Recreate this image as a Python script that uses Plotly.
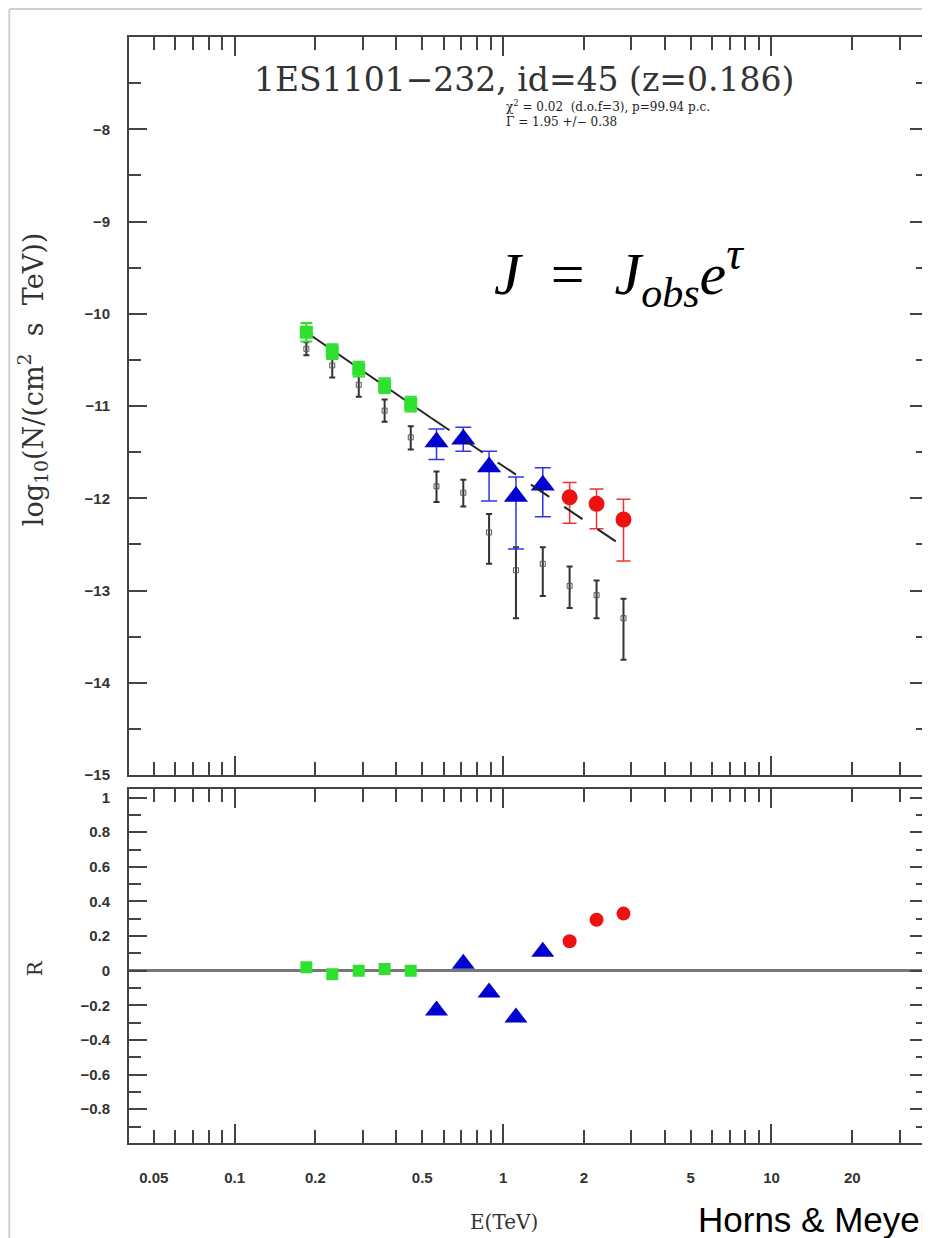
import numpy as np
import plotly.graph_objects as go

# ---------------- data ----------------
E_green = [0.185, 0.231, 0.290, 0.362, 0.453]
E_blue = [0.565, 0.711, 0.887, 1.117, 1.406]
E_red = [1.77, 2.23, 2.81]

logN_green = [-10.20, -10.41, -10.60, -10.78, -10.98]
err_green_up = [0.10, 0.08, 0.08, 0.08, 0.08]
err_green_dn = [0.10, 0.08, 0.08, 0.08, 0.08]

logN_blue = [-11.39, -11.36, -11.66, -11.98, -11.86]
err_blue_up = [0.14, 0.13, 0.17, 0.21, 0.19]
err_blue_dn = [0.19, 0.13, 0.37, 0.57, 0.34]

logN_red = [-11.99, -12.06, -12.23]
err_red_up = [0.16, 0.16, 0.22]
err_red_dn = [0.28, 0.27, 0.45]

E_obs = E_green + E_blue + E_red
logN_obs = [-10.38, -10.56, -10.77, -11.05, -11.34,
            -11.87, -11.94, -12.37, -12.78, -12.71,
            -12.95, -13.05, -13.30]
err_obs_up = [0.07, 0.13, 0.12, 0.12, 0.12, 0.16, 0.14, 0.20, 0.25, 0.18, 0.21, 0.16, 0.21]
err_obs_dn = [0.07, 0.13, 0.13, 0.12, 0.13, 0.17, 0.15, 0.34, 0.52, 0.35, 0.24, 0.25, 0.45]

fit_E_solid = [0.185, 0.54]
fit_logN_solid = [-10.20, -11.13]
fit_E_dash = [0.54, 2.80]
fit_logN_dash = [-11.13, -12.52]

R_green = [0.02, -0.02, 0.00, 0.01, 0.00]
R_blue = [-0.23, 0.04, -0.125, -0.27, 0.11]
R_red = [0.17, 0.295, 0.33]

x_tick_vals = [0.05, 0.1, 0.2, 0.5, 1, 2, 5, 10, 20]
x_tick_text = ["0.05", "0.1", "0.2", "0.5", "1", "2", "5", "10", "20"]
x_minor_vals = [0.04, 0.06, 0.07, 0.08, 0.09, 0.3, 0.4, 0.6, 0.7, 0.8, 0.9,
                3, 4, 6, 7, 8, 9, 30]
x_decades = [0.1, 1, 10]

y_tick_vals = [-8, -9, -10, -11, -12, -13, -14, -15]
y_tick_text = ["\u22128", "\u22129", "\u221210", "\u221211", "\u221212", "\u221213", "\u221214", "\u221215"]
y_minor_vals = [-7.5, -8.5, -9.5, -10.5, -11.5, -12.5, -13.5, -14.5]

r_tick_vals = [1, 0.8, 0.6, 0.4, 0.2, 0, -0.2, -0.4, -0.6, -0.8]
r_tick_text = ["1", "0.8", "0.6", "0.4", "0.2", "0", "\u22120.2", "\u22120.4", "\u22120.6", "\u22120.8"]
r_minor_vals = [0.9, 0.7, 0.5, 0.3, 0.1, -0.1, -0.3, -0.5, -0.7, -0.9]

# ---------------- styling ----------------
GREEN = "#2fe02f"
BLUE = "#0000d0"
RED = "#ee1111"
AX = "#444444"
TICKFONT = dict(family="Liberation Sans", size=15, color="#333333", weight="bold")
SERIF = "DejaVu Serif"

fig = go.Figure()

# observed (black)
fig.add_trace(go.Scatter(
    x=E_obs, y=logN_obs, mode="markers",
    marker=dict(symbol="square-open", size=5, color="#555555", line=dict(width=1)),
    error_y=dict(type="data", symmetric=False, array=err_obs_up, arrayminus=err_obs_dn,
                 color="#333333", thickness=2, width=3),
    xaxis="x", yaxis="y", showlegend=False))

# fit line (solid part)
fig.add_trace(go.Scatter(x=fit_E_solid, y=fit_logN_solid, mode="lines",
                         line=dict(color="#222222", width=2),
                         xaxis="x", yaxis="y", showlegend=False))

# de-absorbed points
fig.add_trace(go.Scatter(
    x=E_green, y=logN_green, mode="markers",
    marker=dict(symbol="square", size=13, color=GREEN),
    error_y=dict(type="data", symmetric=False, array=err_green_up, arrayminus=err_green_dn,
                 color=GREEN, thickness=2, width=6),
    xaxis="x", yaxis="y", showlegend=False))
fig.add_trace(go.Scatter(
    x=E_blue, y=logN_blue, mode="markers",
    marker=dict(symbol="triangle-up", size=21, color=BLUE),
    error_y=dict(type="data", symmetric=False, array=err_blue_up, arrayminus=err_blue_dn,
                 color="#3333ee", thickness=1.5, width=8),
    xaxis="x", yaxis="y", showlegend=False))
fig.add_trace(go.Scatter(
    x=E_red, y=logN_red, mode="markers",
    marker=dict(symbol="circle", size=16, color=RED),
    error_y=dict(type="data", symmetric=False, array=err_red_up, arrayminus=err_red_dn,
                 color="#ee3333", thickness=1.5, width=7),
    xaxis="x", yaxis="y", showlegend=False))

# fit line, dashed part, drawn on top of the markers
fig.add_trace(go.Scatter(x=fit_E_dash, y=fit_logN_dash, mode="lines",
                         line=dict(color="#222222", width=2, dash="22px,18px"),
                         xaxis="x", yaxis="y", showlegend=False, hoverinfo="skip"))

# residuals
fig.add_trace(go.Scatter(x=E_green, y=R_green, mode="markers",
                         marker=dict(symbol="square", size=12, color=GREEN),
                         xaxis="x2", yaxis="y2", showlegend=False))
fig.add_trace(go.Scatter(x=E_blue, y=R_blue, mode="markers",
                         marker=dict(symbol="triangle-up", size=20, color=BLUE),
                         xaxis="x2", yaxis="y2", showlegend=False))
fig.add_trace(go.Scatter(x=E_red, y=R_red, mode="markers",
                         marker=dict(symbol="circle", size=14, color=RED),
                         xaxis="x2", yaxis="y2", showlegend=False))

# empty traces for decade-tick overlay axes
fig.add_trace(go.Scatter(x=[], y=[], xaxis="x3", yaxis="y", showlegend=False))
fig.add_trace(go.Scatter(x=[], y=[], xaxis="x4", yaxis="y2", showlegend=False))

xr = [np.log10(0.0404), np.log10(38.3)]

common_x = dict(type="log", range=xr, showgrid=False, zeroline=False,
                showline=True, linecolor=AX, linewidth=2, mirror="ticks",
                ticks="inside", ticklen=13, tickwidth=1.5, tickcolor=AX,
                tickvals=x_tick_vals, ticktext=x_tick_text,
                minor=dict(tickvals=x_minor_vals, ticks="inside", ticklen=13,
                           tickwidth=1.5, tickcolor=AX, showgrid=False))
dec_x = dict(type="log", range=xr, showgrid=False, zeroline=False,
             showline=True, linecolor=AX, linewidth=2, mirror="ticks",
             ticks="inside", ticklen=19, tickwidth=1.5, tickcolor=AX,
             tickvals=x_decades, showticklabels=False)

# the page adds an 8px body margin; size and margins compensate for it
fig.update_layout(
    width=922, height=1230,
    margin=dict(l=121, r=0, t=29, b=95),
    paper_bgcolor="white", plot_bgcolor="white",
    xaxis=dict(**common_x, anchor="y", showticklabels=False),
    xaxis2=dict(**common_x, anchor="y2", showticklabels=True, tickfont=TICKFONT,
                ticklabelstandoff=20),
    xaxis3=dict(**dec_x, overlaying="x", anchor="y"),
    xaxis4=dict(**dec_x, overlaying="x2", anchor="y2"),
    yaxis=dict(domain=[0.3327, 1.0], range=[-15, -7], showgrid=False, zeroline=False,
               showline=True, linecolor=AX, linewidth=2, mirror="ticks",
               ticks="inside", ticklen=18, tickwidth=1.5, tickcolor=AX,
               tickvals=y_tick_vals, ticktext=y_tick_text, tickfont=TICKFONT,
               ticklabelstandoff=14,
               minor=dict(tickvals=y_minor_vals, ticks="inside", ticklen=12,
                          tickwidth=1.5, tickcolor=AX)),
    yaxis2=dict(domain=[0.0, 0.3201], range=[-0.995, 1.05], showgrid=False,
                zeroline=True, zerolinecolor="#777777", zerolinewidth=2.5,
                showline=True, linecolor=AX, linewidth=2, mirror="ticks",
                ticks="inside", ticklen=18, tickwidth=1.5, tickcolor=AX,
                tickvals=r_tick_vals, ticktext=r_tick_text, tickfont=TICKFONT,
                ticklabelstandoff=14,
                minor=dict(tickvals=r_minor_vals, ticks="inside", ticklen=12,
                           tickwidth=1.5, tickcolor=AX)),
)

NB = "\u00a0"
ann = []
ann.append(dict(text="1ES1101\u2212232, id=45 (z=0.186)", xref="paper", yref="paper",
                x=0.494, y=0.962, xanchor="center", yanchor="middle", showarrow=False,
                font=dict(family=SERIF, size=33, color="#333333")))
ann.append(dict(text="\u03c7<sup>2</sup> = 0.02  (d.o.f=3), p=99.94 p.c.", xref="paper", yref="paper",
                x=0.469, y=0.9376, xanchor="left", yanchor="middle", showarrow=False,
                font=dict(family=SERIF, size=12, color="#222222")))
ann.append(dict(text="\u0393 = 1.95 +/\u2212 0.38", xref="paper", yref="paper",
                x=0.469, y=0.9231, xanchor="left", yanchor="middle", showarrow=False,
                font=dict(family=SERIF, size=12, color="#222222")))
ann.append(dict(text="<i>J</i>" + NB * 2 + "=" + NB * 2 + "<i>J</i><sub><i>obs</i></sub><i>e</i>"
                     "<sup><span style='font-size:46px'><i>\u03c4</i></span></sup>",
                xref="paper", yref="paper", x=0.4544, y=0.7875, xanchor="left", yanchor="middle",
                showarrow=False, font=dict(family="Liberation Serif", size=60, color="black")))
ann.append(dict(text="log<sub>10</sub>(N/(cm<sup>2</sup>" + NB * 2 + "s" + NB * 2 + "TeV))",
                xref="paper", yref="paper",
                x=-0.1199, y=0.6899, xanchor="center", yanchor="middle", textangle=-90,
                showarrow=False, font=dict(family=SERIF, size=27, color="#333333")))
ann.append(dict(text="R", xref="paper", yref="paper",
                x=-0.1174, y=0.1582, xanchor="center", yanchor="middle", textangle=-90,
                showarrow=False, font=dict(family=SERIF, size=20, color="#333333")))
ann.append(dict(text="E(TeV)", xref="paper", yref="paper",
                x=0.4694, y=-0.0714, xanchor="center", yanchor="middle", showarrow=False,
                font=dict(family=SERIF, size=20, color="#333333")))
ann.append(dict(text="Horns &amp; Meyer", xref="paper", yref="paper",
                x=0.7091, y=-0.0696, xanchor="left", yanchor="middle", showarrow=False,
                font=dict(family="Liberation Sans", size=35, color="black")))
fig.update_layout(annotations=ann)

# light image frame (top and left edges)
fig.add_shape(type="line", xref="paper", yref="paper", x0=-0.1498, x1=1.02, y0=1.0253, y1=1.0253,
              line=dict(color="#d0d0d0", width=2), layer="above")
fig.add_shape(type="line", xref="paper", yref="paper", x0=-0.1498, x1=-0.1498, y0=-0.1, y1=1.0253,
              line=dict(color="#d0d0d0", width=2), layer="above")

fig.write_html("out.html")
